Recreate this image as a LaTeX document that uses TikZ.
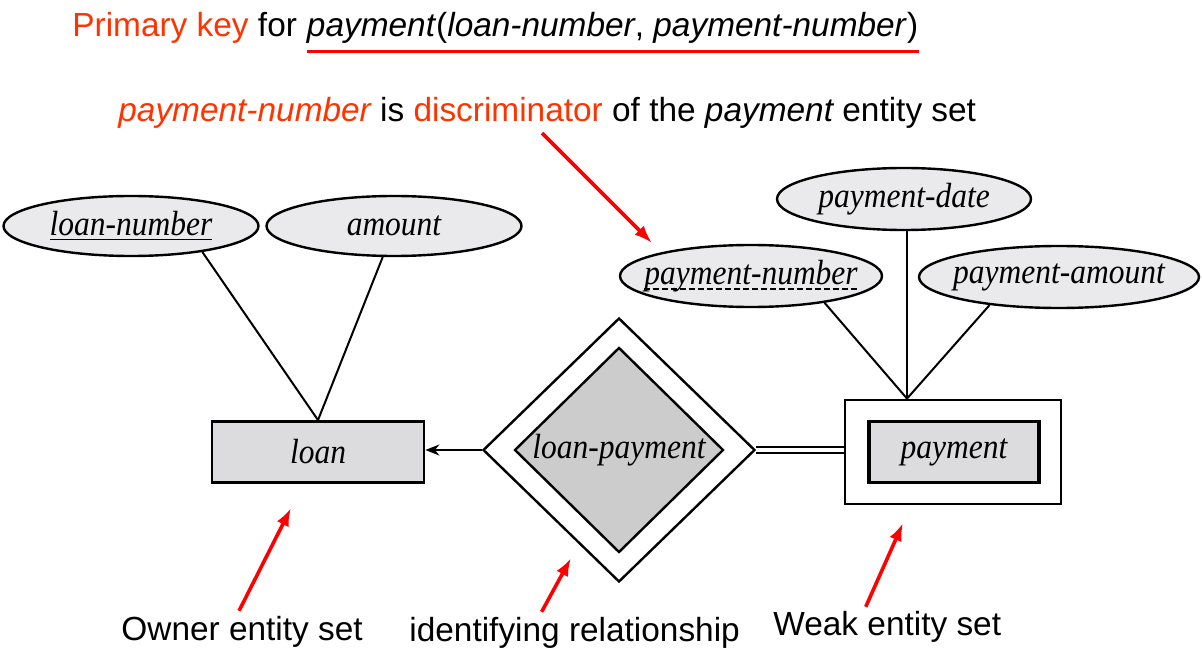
\documentclass[tikz,border=0pt]{standalone}
\usepackage{fontspec}
\setsansfont{Liberation Sans}
\newfontfamily\erfamily[FakeStretch=0.9]{Liberation Serif}
\usetikzlibrary{shapes.geometric,arrows.meta,positioning}
\definecolor{keyred}{RGB}{255,51,0}
\definecolor{attrfill}{RGB}{234,233,235}
\definecolor{entfill}{RGB}{220,219,222}
\definecolor{relfill}{RGB}{204,204,204}
\newcommand{\erfont}{\erfamily\itshape\fontsize{17.5}{20}\selectfont}
\newcommand{\notefont}{\sffamily\fontsize{16.7}{20}\selectfont}

\begin{document}
\begin{tikzpicture}[x=0.5pt,y=-0.5pt,
    attr/.style={ellipse,draw,line width=1.2pt,fill=attrfill,inner sep=0pt,inner xsep=-15pt,minimum height=31pt,font=\erfont},
    entity/.style={rectangle,draw,line width=1.4pt,fill=entfill,inner sep=0pt,minimum width=106pt,minimum height=30.5pt,font=\erfont},
    note/.style={inner sep=0pt,font=\notefont},
    link/.style={line width=1pt},
    pointer/.style={red,line width=1.8pt,-{Latex[length=9pt,width=6.5pt]}}]
  \useasboundingbox (0,0) rectangle (1202,657);

  % Textos superiores
  \node[note,anchor=base west] (pk) at (72,37) {{\color{keyred}Primary key} for};
  \node[note,base right=4.6pt of pk] (pkrel) {\itshape payment\/\upshape(\itshape loan-number\upshape, \itshape payment-number\/\upshape)};
  \draw[red,line width=1.5pt] ([yshift=-7.5pt]pkrel.base west) -- ([yshift=-7.5pt]pkrel.base east);
  \node[note,anchor=base west] (disc) at (118,122) {{\color{keyred}\itshape payment-number} is {\color{keyred}discriminator} of the {\itshape payment} entity set};

  % Conjunto de entidades fuerte
  \node[attr,minimum width=127.5pt,minimum height=30pt] (lnum) at (131,226) {\underline{loan-number}};
  \node[attr,minimum width=127.5pt,minimum height=30pt] (amt) at (394,226) {amount};
  \node[entity] (loan) at (318,452) {loan};

  % Relacion identificadora
  \node[diamond,draw,line width=1.2pt,fill=white,inner sep=0pt,minimum width=136pt,minimum height=132pt] (lpo) at (619,450) {};
  \node[diamond,draw,line width=1.2pt,fill=relfill,inner sep=0pt,minimum width=104.5pt,minimum height=100pt,font=\erfont] (lp) at (619,450) {loan-payment};

  % Conjunto de entidades debil
  \node[rectangle,draw,line width=1.4pt,minimum width=108pt,minimum height=52pt] (payo) at (953,452) {};
  \node[entity,line width=1.6pt,minimum width=85pt] (pay) at (954,452) {payment};
  \node[attr,minimum width=127pt] (pdate) at (904,199) {payment-date};
  \node[attr,minimum width=131pt] (pnum) at (751,276) {};
  \node[font=\erfont,inner sep=0pt] (pnumlbl) at (pnum) {payment-number};
  \draw[line width=0.9pt,dash pattern=on 3pt off 1.5pt] ([yshift=-2.5pt]pnumlbl.base west) -- ([yshift=-2.5pt]pnumlbl.base east);
  \node[attr,minimum width=140pt] (pamt) at (1059,277) {payment-amount};

  % Conexiones
  \draw[link] (lnum.-20) -- (loan.north);
  \draw[link] (amt.-110) -- (loan.north);
  \draw[link,-{Stealth[length=7pt,width=5.5pt]}] (lpo.west) -- (lpo.west -| loan.east);
  \draw[link,double,double distance=2.4pt] (lpo.east) -- (lpo.east -| payo.west);
  \coordinate (payjoin) at ([xshift=-23pt]payo.north);
  \draw[link] (pnum.-20) -- (payjoin);
  \draw[link] (pdate.south -| payjoin) -- (payjoin);
  \draw[link] (pamt.-158) -- (payjoin);

  % Etiquetas inferiores
  \node[note,anchor=base west] (owner) at (121,640) {Owner entity set};
  \node[note,anchor=base west] (ident) at (409,641) {identifying relationship};
  \node[note,anchor=base west] (weak) at (773,635) {Weak entity set};

  % Flechas rojas
  \coordinate (disctail) at (542,133);
  \coordinate (disctip) at (652,243);
  \coordinate (ownertip) at (291,508);
  \coordinate (identtip) at (571,558);
  \coordinate (weaktip) at (903,523);
  \draw[pointer] (disctail) -- (disctip);
  \draw[pointer] ([xshift=-1.5pt,yshift=2.3pt]owner.north) -- (ownertip);
  \draw[pointer] ([xshift=-16.5pt,yshift=2.3pt]ident.north) -- (identtip);
  \draw[pointer] ([xshift=-10.75pt,yshift=1.8pt]weak.north) -- (weaktip);
\end{tikzpicture}
\end{document}
